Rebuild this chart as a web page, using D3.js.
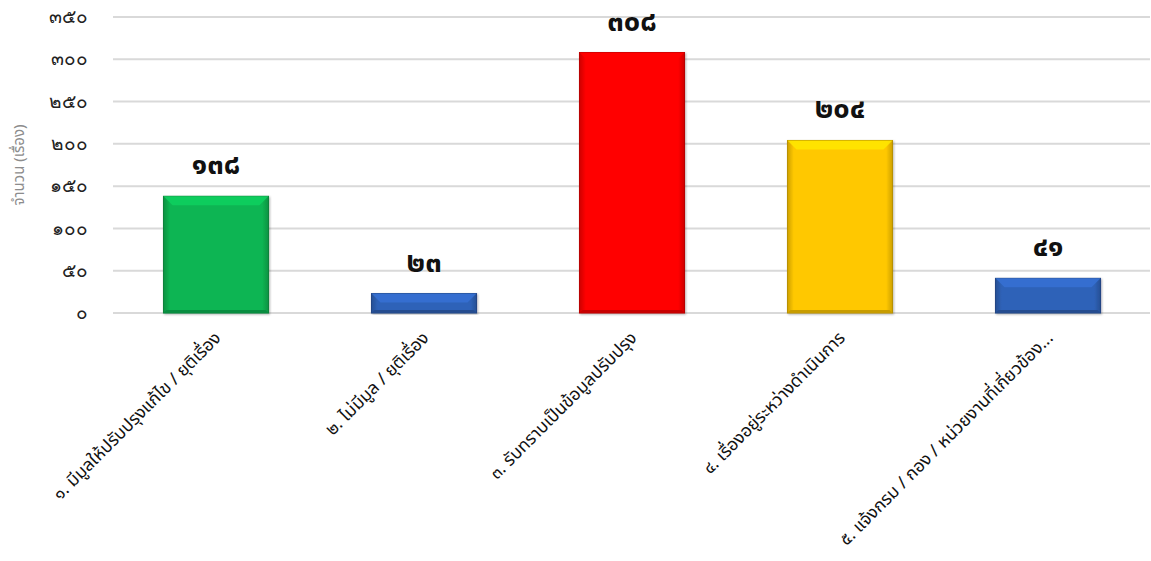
<!DOCTYPE html>
<html lang="th">
<head>
<meta charset="utf-8">
<script src="https://cdn.jsdelivr.net/npm/d3@7"></script>
<style>
  html, body { margin: 0; padding: 0; background: #fff; }
  svg { display: block; font-family: "Noto Sans Thai", "Tahoma", "DejaVu Sans", "Noto Sans", sans-serif; }
</style>
</head>
<body>
<svg id="chart" width="1151" height="561"></svg>
<script>
// Complaint outcome categories and counts
const categories = [
  "๑. มีมูลให้ปรับปรุงแก้ไข / ยุติเรื่อง",
  "๒. ไม่มีมูล / ยุติเรื่อง",
  "๓. รับทราบเป็นข้อมูลปรับปรุง",
  "๔. เรื่องอยู่ระหว่างดำเนินการ",
  "๕. แจ้งกรม / กอง / หน่วยงานที่เกี่ยวข้อง..."
];
const values = [138, 23, 308, 204, 41];
const barColors = ["#0cb552", "#2f62b8", "#ff0000", "#ffc800", "#2f62b8"];
const yTicks = [0, 50, 100, 150, 200, 250, 300, 350];
const yTitle = "จำนวน (เรื่อง)";

const thaiDigits = "๐๑๒๓๔๕๖๗๘๙";
const toThai = n => String(n).replace(/[0-9]/g, d => thaiDigits[+d]);

const svg = d3.select("#chart");
const W = 1151, H = 561;
const margin = { left: 112, right: -1, top: 17, bottom: 248 };

const x = d3.scaleBand()
  .domain(categories)
  .range([margin.left, W - margin.right])
  .paddingInner(0.495)
  .paddingOuter(0.2475);

const y = d3.scaleLinear()
  .domain([0, 350])
  .range([H - margin.bottom, margin.top]);

// Gridlines
svg.append("g")
  .selectAll("line")
  .data(yTicks)
  .join("line")
  .attr("x1", margin.left + 1)
  .attr("x2", W - 1)
  .attr("y1", d => y(d))
  .attr("y2", d => y(d))
  .attr("stroke", "#d9d9d9")
  .attr("stroke-width", 2);

// Y axis tick labels
const yAxis = d3.axisLeft(y).tickValues(yTicks).tickFormat(toThai).tickSize(0).tickPadding(0);
const gy = svg.append("g").attr("transform", `translate(${88},0)`).call(yAxis);
gy.select(".domain").remove();
gy.selectAll("text")
  .attr("fill", "#222")
  .style("font-size", "19px")
  .attr("dy", "0.3em");

// Y axis title
svg.append("text")
  .attr("transform", `translate(24,${(y(0) + y(350)) / 2}) rotate(-90)`)
  .attr("text-anchor", "middle")
  .attr("fill", "#8c8c8c")
  .style("font-size", "15px")
  .text(yTitle);

// Gradients for bar shading
const defs = svg.append("defs");
barColors.forEach((c, i) => {
  const base = d3.color(c);
  const g = defs.append("linearGradient")
    .attr("id", "grad" + i)
    .attr("x1", 0).attr("x2", 1).attr("y1", 0).attr("y2", 0);
  g.append("stop").attr("offset", "0%").attr("stop-color", base.darker(0.6));
  g.append("stop").attr("offset", "6%").attr("stop-color", base);
  g.append("stop").attr("offset", "94%").attr("stop-color", base);
  g.append("stop").attr("offset", "100%").attr("stop-color", base.darker(0.6));
});
defs.append("filter").attr("id", "shadow")
  .append("feDropShadow")
  .attr("dx", 1).attr("dy", 1).attr("stdDeviation", 1.2)
  .attr("flood-color", "#000").attr("flood-opacity", 0.3);

// Bars
const bars = svg.append("g")
  .selectAll("g")
  .data(values)
  .join("g");

bars.append("rect")
  .attr("x", (d, i) => x(categories[i]))
  .attr("y", d => y(d))
  .attr("width", x.bandwidth())
  .attr("height", d => y(0) - y(d))
  .attr("fill", (d, i) => `url(#grad${i})`)
  .attr("stroke", (d, i) => d3.color(barColors[i]).darker(0.9))
  .attr("stroke-width", 1)
  .attr("filter", "url(#shadow)");

// Top bevel highlight
const bevel = 9;
bars.append("path")
  .attr("d", (d, i) => {
    const x0 = x(categories[i]), x1 = x0 + x.bandwidth(), t = y(d);
    const b = Math.min(bevel, (y(0) - t) / 2);
    return `M${x0},${t}L${x1},${t}L${x1 - b},${t + b}L${x0 + b},${t + b}Z`;
  })
  .attr("fill", (d, i) => d3.color(barColors[i]).brighter(0.4))
  .attr("opacity", 0.85);

// Bottom bevel shade
bars.append("path")
  .attr("d", (d, i) => {
    const x0 = x(categories[i]), x1 = x0 + x.bandwidth(), bt = y(0);
    const b = Math.min(3, (y(0) - y(d)) / 4);
    return `M${x0},${bt}L${x1},${bt}L${x1 - b},${bt - b}L${x0 + b},${bt - b}Z`;
  })
  .attr("fill", (d, i) => d3.color(barColors[i]).darker(0.7));

// Value labels
bars.append("text")
  .attr("x", (d, i) => x(categories[i]) + x.bandwidth() / 2)
  .attr("y", d => y(d) - 22)
  .attr("text-anchor", "middle")
  .attr("fill", "#111")
  .style("font-size", "29px")
  .style("font-weight", "bold")
  .text(d => toThai(d));

// Category labels, rotated
svg.append("g")
  .selectAll("text")
  .data(categories)
  .join("text")
  .attr("transform", d => `translate(${x(d) + x.bandwidth() / 2 + 6},${y(0) + 26}) rotate(-45)`)
  .attr("text-anchor", "end")
  .attr("fill", "#111")
  .style("font-size", "17.5px")
  .text(d => d);
</script>
</body>
</html>
